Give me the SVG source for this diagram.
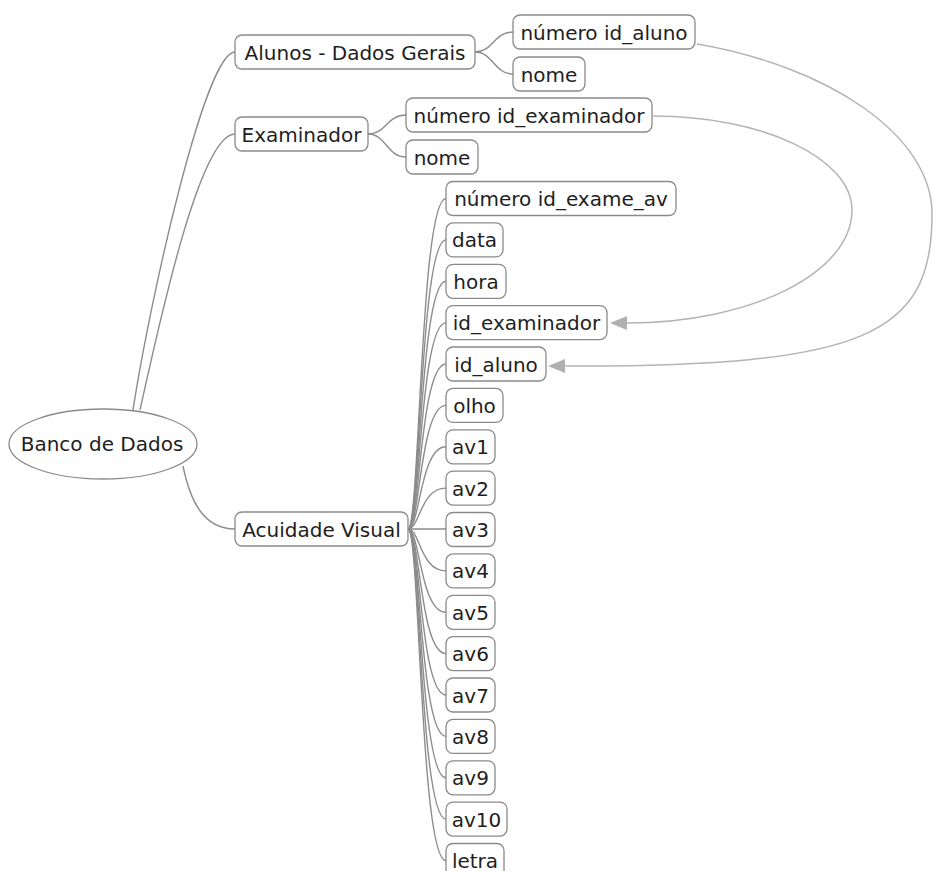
<svg xmlns="http://www.w3.org/2000/svg" width="933" height="871" viewBox="0 0 933 871">
  <style>
    .box { fill: #ffffff; stroke: #8a8a8a; stroke-width: 1.3; }
    .lbl { font-family: "DejaVu Sans", "Liberation Sans", sans-serif; font-size: 20px; fill: #1e1e1e; text-anchor: middle; }
    .branch { fill: none; stroke: #8c8c8c; stroke-width: 1.4; }
    .link { fill: none; stroke: #b4b4b4; stroke-width: 1.5; }
  </style>
  <defs>
    <marker id="arrow" markerUnits="userSpaceOnUse" viewBox="0 -7 17 14" refX="0" refY="0" markerWidth="17" markerHeight="14" orient="auto" overflow="visible">
      <path d="M0,-7 L17,0 L0,7 z" fill="#b0b0b0"/>
    </marker>
  </defs>
  <rect width="933" height="871" fill="#ffffff"/>

  <!-- connectors -->
  <g id="connectors">
    <!-- root to main topics -->
    <path class="branch" d="M133,410 C150,300 205,52 235,52"/>
    <path class="branch" d="M140,410 C160,320 200,134 235,134"/>
    <path class="branch" d="M183,466 C190,500 203,529 235,529"/>
    <!-- Alunos - Dados Gerais -->
    <path class="branch" d="M475,52 C493,52 494,32 513,32"/>
    <path class="branch" d="M475,52 C493,52 494,74 513,74"/>
    <!-- Examinador -->
    <path class="branch" d="M368,134 C386,134 387,115 406,115"/>
    <path class="branch" d="M368,134 C386,134 387,157 406,157"/>
    <!-- Acuidade Visual fields -->
    <path class="branch" d="M408,529 C420,529 420,198.5 446,198.5"/>
    <path class="branch" d="M408,529 C420,529 420,239.9 446,239.9"/>
    <path class="branch" d="M408,529 C420,529 420,281.3 446,281.3"/>
    <path class="branch" d="M408,529 C420,529 420,322.6 446,322.6"/>
    <path class="branch" d="M408,529 C420,529 420,364 446,364"/>
    <path class="branch" d="M408,529 C420,529 420,405.4 446,405.4"/>
    <path class="branch" d="M408,529 C420,529 420,446.8 446,446.8"/>
    <path class="branch" d="M408,529 C420,529 420,488.1 446,488.1"/>
    <path class="branch" d="M408,529 L446,529"/>
    <path class="branch" d="M408,529 C420,529 420,570.9 446,570.9"/>
    <path class="branch" d="M408,529 C420,529 420,612.3 446,612.3"/>
    <path class="branch" d="M408,529 C420,529 420,653.6 446,653.6"/>
    <path class="branch" d="M408,529 C420,529 420,695 446,695"/>
    <path class="branch" d="M408,529 C420,529 420,736.4 446,736.4"/>
    <path class="branch" d="M408,529 C420,529 420,777.8 446,777.8"/>
    <path class="branch" d="M408,529 C420,529 420,819.1 446,819.1"/>
    <path class="branch" d="M408,529 C420,529 420,860.5 446,860.5"/>
    <!-- key references -->
    <path class="link" marker-end="url(#arrow)" d="M653,116 C764,116 852,159 852,210 C852,273 751,323 627,323"/>
    <path class="link" marker-end="url(#arrow)" d="M697,44 C827,66 933,135 932,215 C932,335 865,367 565,366"/>
  </g>

  <!-- central topic -->
  <g id="banco-de-dados">
    <ellipse class="box" cx="103" cy="444" rx="94" ry="35"/>
    <text class="lbl" x="102" y="451">Banco de Dados</text>
  </g>

  <!-- main topics -->
  <g id="alunos">
    <rect class="box" x="235" y="35" width="240" height="34" rx="7"/>
    <text class="lbl" x="355" y="59.5">Alunos - Dados Gerais</text>
  </g>
  <g id="examinador">
    <rect class="box" x="235" y="117" width="133" height="34" rx="7"/>
    <text class="lbl" x="301.5" y="141.5">Examinador</text>
  </g>
  <g id="acuidade-visual">
    <rect class="box" x="235" y="512" width="173" height="34" rx="7"/>
    <text class="lbl" x="321.5" y="536.5">Acuidade Visual</text>
  </g>

  <!-- Alunos fields -->
  <g id="alunos-id">
    <rect class="box" x="513" y="15" width="182" height="34" rx="7"/>
    <text class="lbl" x="604" y="39.5">número id_aluno</text>
  </g>
  <g id="alunos-nome">
    <rect class="box" x="513" y="57" width="72" height="34" rx="7"/>
    <text class="lbl" x="549" y="81.5">nome</text>
  </g>

  <!-- Examinador fields -->
  <g id="examinador-id">
    <rect class="box" x="406" y="98" width="246" height="34" rx="7"/>
    <text class="lbl" x="529" y="122.5">número id_examinador</text>
  </g>
  <g id="examinador-nome">
    <rect class="box" x="406" y="140" width="72" height="34" rx="7"/>
    <text class="lbl" x="442" y="164.5">nome</text>
  </g>

  <!-- Acuidade Visual fields -->
  <g id="av-id">
    <rect class="box" x="446" y="181.5" width="230" height="34" rx="7"/>
    <text class="lbl" x="561" y="206">número id_exame_av</text>
  </g>
  <g id="av-data">
    <rect class="box" x="446" y="222.9" width="57" height="34" rx="7"/>
    <text class="lbl" x="474.5" y="247.4">data</text>
  </g>
  <g id="av-hora">
    <rect class="box" x="446" y="264.3" width="60" height="34" rx="7"/>
    <text class="lbl" x="476" y="288.8">hora</text>
  </g>
  <g id="av-id-examinador">
    <rect class="box" x="446" y="305.6" width="161" height="34" rx="7"/>
    <text class="lbl" x="526.5" y="330.1">id_examinador</text>
  </g>
  <g id="av-id-aluno">
    <rect class="box" x="446" y="347" width="100" height="34" rx="7"/>
    <text class="lbl" x="496" y="371.5">id_aluno</text>
  </g>
  <g id="av-olho">
    <rect class="box" x="446" y="388.4" width="57" height="34" rx="7"/>
    <text class="lbl" x="474.5" y="412.9">olho</text>
  </g>
  <g id="av-av1">
    <rect class="box" x="446" y="429.8" width="49" height="34" rx="7"/>
    <text class="lbl" x="470.5" y="454.3">av1</text>
  </g>
  <g id="av-av2">
    <rect class="box" x="446" y="471.1" width="49" height="34" rx="7"/>
    <text class="lbl" x="470.5" y="495.6">av2</text>
  </g>
  <g id="av-av3">
    <rect class="box" x="446" y="512.5" width="49" height="34" rx="7"/>
    <text class="lbl" x="470.5" y="537">av3</text>
  </g>
  <g id="av-av4">
    <rect class="box" x="446" y="553.9" width="49" height="34" rx="7"/>
    <text class="lbl" x="470.5" y="578.4">av4</text>
  </g>
  <g id="av-av5">
    <rect class="box" x="446" y="595.3" width="49" height="34" rx="7"/>
    <text class="lbl" x="470.5" y="619.8">av5</text>
  </g>
  <g id="av-av6">
    <rect class="box" x="446" y="636.6" width="49" height="34" rx="7"/>
    <text class="lbl" x="470.5" y="661.1">av6</text>
  </g>
  <g id="av-av7">
    <rect class="box" x="446" y="678" width="49" height="34" rx="7"/>
    <text class="lbl" x="470.5" y="702.5">av7</text>
  </g>
  <g id="av-av8">
    <rect class="box" x="446" y="719.4" width="49" height="34" rx="7"/>
    <text class="lbl" x="470.5" y="743.9">av8</text>
  </g>
  <g id="av-av9">
    <rect class="box" x="446" y="760.8" width="49" height="34" rx="7"/>
    <text class="lbl" x="470.5" y="785.3">av9</text>
  </g>
  <g id="av-av10">
    <rect class="box" x="446" y="802.1" width="61" height="34" rx="7"/>
    <text class="lbl" x="476.5" y="826.6">av10</text>
  </g>
  <g id="av-letra">
    <rect class="box" x="446" y="843.5" width="58" height="34" rx="7"/>
    <text class="lbl" x="475" y="868">letra</text>
  </g>
</svg>
